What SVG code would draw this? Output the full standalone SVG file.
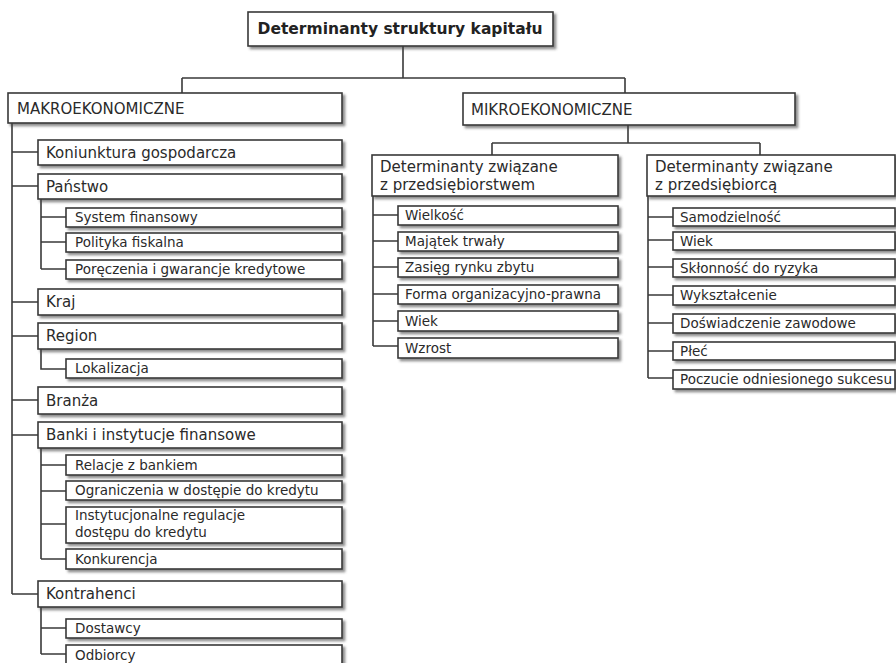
<svg xmlns="http://www.w3.org/2000/svg" width="896" height="663" viewBox="0 0 896 663">
<style>
.b{fill:#fff;stroke:#3a3a3a;stroke-width:1.6;filter:url(#sh)}
.t{font-family:"DejaVu Sans",Verdana,sans-serif;font-size:15px;fill:#2a2a2a}
.s{font-family:"DejaVu Sans",Verdana,sans-serif;font-size:13.5px;fill:#2a2a2a}
.h{font-family:"DejaVu Sans",Verdana,sans-serif;font-size:15.5px;font-weight:bold;fill:#222}
.c{fill:none;stroke:#3a3a3a;stroke-width:1.6}
</style>
<defs>
<filter id="sh" x="-5%" y="-20%" width="115%" height="160%">
<feDropShadow dx="2.5" dy="2.5" stdDeviation="1" flood-color="#444" flood-opacity="0.6"/>
</filter>
</defs>
<rect width="896" height="663" fill="#fff"/>
<g id="connectors">
<path class="c" d="M403 46V78M182 78H625M182 78V93M625 78V93"/>
<path class="c" d="M12 123V594M12 152H38M12 186H38M12 302H38M12 336H38M12 400H38M12 435H38M12 594H38"/>
<path class="c" d="M41 199V269M41 217H66M41 242H66M41 269H66"/>
<path class="c" d="M41 349V369H66"/>
<path class="c" d="M41 448V559M41 465H66M41 491H66M41 524H66M41 559H66"/>
<path class="c" d="M41 607V654M41 628H66M41 654H66"/>
<path class="c" d="M628 125V143M492 143H760M492 143V155M760 143V155"/>
<path class="c" d="M373 196V346M373 215H398M373 241H398M373 267H398M373 294H398M373 321H398M373 346H398"/>
<path class="c" d="M648 196V378M648 217H673M648 240H673M648 267H673M648 295H673M648 323H673M648 351H673M648 378H673"/>
</g>
<g id="title"><rect class="b" x="248" y="12" width="305" height="34"/><text class="h" x="400" y="34" text-anchor="middle">Determinanty struktury kapitału</text></g>
<g id="makro"><rect class="b" x="8" y="93" width="334" height="30"/><text class="t" x="17" y="114">MAKROEKONOMICZNE</text></g>
<g id="koniunktura"><rect class="b" x="38" y="140" width="304" height="25"/><text class="t" x="46" y="158">Koniunktura gospodarcza</text></g>
<g id="panstwo"><rect class="b" x="38" y="174" width="304" height="25"/><text class="t" x="46" y="192">Państwo</text></g>
<g id="system"><rect class="b" x="66" y="208" width="276" height="19"/><text class="s" x="75" y="222">System finansowy</text></g>
<g id="polityka"><rect class="b" x="66" y="233" width="276" height="19"/><text class="s" x="75" y="247">Polityka fiskalna</text></g>
<g id="poreczenia"><rect class="b" x="66" y="260" width="276" height="19"/><text class="s" x="75" y="274">Poręczenia i gwarancje kredytowe</text></g>
<g id="kraj"><rect class="b" x="38" y="289" width="304" height="26"/><text class="t" x="46" y="307">Kraj</text></g>
<g id="region"><rect class="b" x="38" y="323" width="304" height="26"/><text class="t" x="46" y="341">Region</text></g>
<g id="lokalizacja"><rect class="b" x="66" y="359" width="276" height="19"/><text class="s" x="75" y="373">Lokalizacja</text></g>
<g id="branza"><rect class="b" x="38" y="387" width="304" height="27"/><text class="t" x="46" y="406">Branża</text></g>
<g id="banki"><rect class="b" x="38" y="422" width="304" height="26"/><text class="t" x="46" y="440">Banki i instytucje finansowe</text></g>
<g id="relacje"><rect class="b" x="66" y="455" width="276" height="20"/><text class="s" x="75" y="470">Relacje z bankiem</text></g>
<g id="ograniczenia"><rect class="b" x="66" y="481" width="276" height="19"/><text class="s" x="75" y="495">Ograniczenia w dostępie do kredytu</text></g>
<g id="instytucjonalne"><rect class="b" x="66" y="507" width="276" height="36"/><text class="s" x="75" y="520">Instytucjonalne regulacje</text><text class="s" x="75" y="537">dostępu do kredytu</text></g>
<g id="konkurencja"><rect class="b" x="66" y="549" width="276" height="20"/><text class="s" x="75" y="564">Konkurencja</text></g>
<g id="kontrahenci"><rect class="b" x="38" y="581" width="304" height="26"/><text class="t" x="46" y="599">Kontrahenci</text></g>
<g id="dostawcy"><rect class="b" x="66" y="619" width="276" height="19"/><text class="s" x="75" y="633">Dostawcy</text></g>
<g id="odbiorcy"><rect class="b" x="66" y="645" width="276" height="22"/><text class="s" x="75" y="660">Odbiorcy</text></g>
<g id="mikro"><rect class="b" x="463" y="93" width="332" height="32"/><text class="t" x="471" y="115">MIKROEKONOMICZNE</text></g>
<g id="przedsiebiorstwo"><rect class="b" x="372" y="155" width="246" height="41"/><text class="t" x="380" y="172">Determinanty związane</text><text class="t" x="380" y="190">z przedsiębiorstwem</text></g>
<g id="wielkosc"><rect class="b" x="398" y="206" width="220" height="19"/><text class="s" x="405" y="220">Wielkość</text></g>
<g id="majatek"><rect class="b" x="398" y="232" width="220" height="19"/><text class="s" x="405" y="246">Majątek trwały</text></g>
<g id="zasieg"><rect class="b" x="398" y="258" width="220" height="19"/><text class="s" x="405" y="272">Zasięg rynku zbytu</text></g>
<g id="forma"><rect class="b" x="398" y="285" width="220" height="19"/><text class="s" x="405" y="299">Forma organizacyjno-prawna</text></g>
<g id="wiek1"><rect class="b" x="398" y="311" width="220" height="20"/><text class="s" x="405" y="326">Wiek</text></g>
<g id="wzrost"><rect class="b" x="398" y="338" width="220" height="20"/><text class="s" x="405" y="353">Wzrost</text></g>
<g id="przedsiebiorca"><rect class="b" x="647" y="155" width="248" height="41"/><text class="t" x="655" y="172">Determinanty związane</text><text class="t" x="655" y="190">z przedsiębiorcą</text></g>
<g id="samodzielnosc"><rect class="b" x="673" y="208" width="222" height="18"/><text class="s" x="680" y="222">Samodzielność</text></g>
<g id="wiek2"><rect class="b" x="673" y="232" width="222" height="18"/><text class="s" x="680" y="246">Wiek</text></g>
<g id="sklonnosc"><rect class="b" x="673" y="259" width="222" height="18"/><text class="s" x="680" y="273">Skłonność do ryzyka</text></g>
<g id="wyksztalcenie"><rect class="b" x="673" y="286" width="222" height="19"/><text class="s" x="680" y="300">Wykształcenie</text></g>
<g id="doswiadczenie"><rect class="b" x="673" y="314" width="222" height="19"/><text class="s" x="680" y="328">Doświadczenie zawodowe</text></g>
<g id="plec"><rect class="b" x="673" y="342" width="222" height="18"/><text class="s" x="680" y="356">Płeć</text></g>
<g id="poczucie"><rect class="b" x="673" y="370" width="222" height="19"/><text class="s" x="680" y="384">Poczucie odniesionego sukcesu</text></g>
</svg>
